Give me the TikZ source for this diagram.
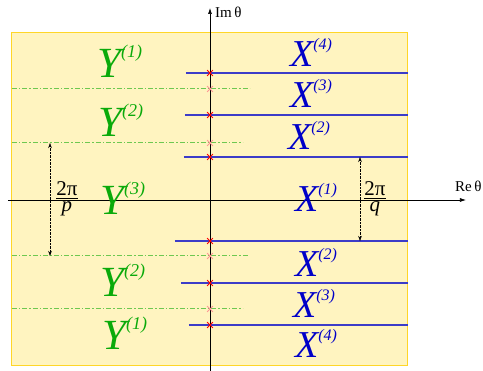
\documentclass[tikz,border=0pt]{standalone}
\usepackage{fontspec}
\setmainfont{Liberation Serif}
\usetikzlibrary{calc, positioning}
\usetikzlibrary{arrows.meta}
\usetikzlibrary{shapes.misc}

\definecolor{sheet}{RGB}{255,244,192}
\definecolor{sheetedge}{RGB}{255,214,40}
\definecolor{ygreen}{RGB}{10,170,10}
\definecolor{seamgreen}{RGB}{110,200,80}
\definecolor{xblue}{RGB}{0,0,200}
\definecolor{cutblue}{RGB}{60,60,200}
\definecolor{ghost}{RGB}{255,150,150}

\newcommand{\Ylbl}[1]{\fontsize{43pt}{43pt}\selectfont\itshape Y\raisebox{0.47em}{\fontsize{18pt}{18pt}\selectfont(#1)}}
\newcommand{\Xlbl}[1]{\fontsize{38pt}{38pt}\selectfont\itshape X\raisebox{0.47em}{\fontsize{16pt}{16pt}\selectfont(#1)}}
\newcommand{\fracpart}[1]{\fontsize{21pt}{21pt}\selectfont #1}

\begin{document}
\begin{tikzpicture}[x=1pt, y=1pt,
  cut/.style={cutblue, line width=1.2pt},
  seam/.style={seamgreen, line width=1pt, dash pattern=on 5pt off 2pt on 1.5pt off 2pt},
  span/.style={densely dotted, {Stealth[length=5pt,width=3.5pt]}-{Stealth[length=5pt,width=3.5pt]}},
  pole/.style={cross out, draw=red, line width=0.8pt, minimum size=5pt, inner sep=0pt},
  ghostpole/.style={pole, draw=ghost},
  ylab/.style={ygreen, anchor=base west, inner sep=0pt},
  xlab/.style={xblue, anchor=base west, inner sep=0pt},
  frac/.style={anchor=base, inner sep=0pt},
  axlab/.style={anchor=west, inner sep=1pt}]
\useasboundingbox (-210,-171) rectangle (273,200);
\def\half{198}
\def\top{167}
\def\bot{-166}
\coordinate (O) at (0,0);
% sheet
\filldraw[fill=sheet, draw=sheetedge, line width=1pt] (-\half,\bot) rectangle (\half,\top);
% seams between the Y sheets
\foreach \y/\x [count=\i] in {111/40, 57/33, -56/38, -109/33}
  \draw[seam] (-\half,\y) coordinate (sl\i) -- (\x,\y) coordinate (sr\i);
% cuts of the X sheets
\foreach \y/\x [count=\i] in {127/-24, 85/-25, 43/-26, -41/-35, -83/-29, -125/-21}
  \draw[cut] (\x,\y) coordinate (cl\i) -- (\half,\y) coordinate (cr\i);
% axes
\coordinate (Ib) at (0,-171);
\coordinate (It) at (0,192);
\coordinate (Rl) at (-202,0);
\coordinate (Rr) at (256,0);
\draw[-{Latex[length=6pt,width=4pt]}, line width=0.7pt] (Ib) -- (It);
\draw[-{Latex[length=6pt,width=4pt]}, line width=0.7pt] (Rl) -- (Rr);
\node[axlab] (im) at ($(It)+(4,-4)$) {\fontsize{15pt}{15pt}\selectfont Im\,θ};
\node[axlab] (re) at (244,14) {\fontsize{15pt}{15pt}\selectfont Re\,θ};
% poles on the imaginary axis
\foreach \y [count=\i] in {127, 85, 43, -41, -83, -125}
  \node[pole] (p\i) at (0,\y) {};
\foreach \y [count=\i] in {111, 57, -56, -109}
  \node[ghostpole] (g\i) at (0,\y) {};
% periods
\draw[span] (-160,57) -- (-160,-56);
\draw[span] (150,43) -- (150,-41);
\node[frac] (fpn) at (-143,4) {\fracpart{2π}};
\node[frac] (fpd) at ($(fpn.base)+(0,-16)$) {\fracpart{\itshape p}};
\draw[line width=0.8pt] ($(fpn.base west)+(0,-2)$) -- ($(fpn.base east)+(0,-2)$);
\node[frac] (fqn) at (165,4) {\fracpart{2π}};
\node[frac] (fqd) at ($(fqn.base)+(0,-16)$) {\fracpart{\itshape q}};
\draw[line width=0.8pt] ($(fqn.base west)+(0,-2)$) -- ($(fqn.base east)+(0,-2)$);
% sheet labels
\node[ylab] (y1) at (-113,122) {\Ylbl{1}};
\node[ylab] (y2) at (-112,63) {\Ylbl{2}};
\node[ylab] (y3) at (-110,-15) {\Ylbl{3}};
\node[ylab] (y4) at (-110,-97) {\Ylbl{2}};
\node[ylab] (y5) at (-108,-150) {\Ylbl{1}};
\node[xlab] (x1) at (80,133) {\Xlbl{4}};
\node[xlab] (x2) at (80,92) {\Xlbl{3}};
\node[xlab] (x3) at (78,50) {\Xlbl{2}};
\node[xlab] (x4) at (85,-12) {\Xlbl{1}};
\node[xlab] (x5) at (85,-77) {\Xlbl{2}};
\node[xlab] (x6) at (83,-118) {\Xlbl{3}};
\node[xlab] (x7) at (85,-158) {\Xlbl{4}};
\end{tikzpicture}
\end{document}
